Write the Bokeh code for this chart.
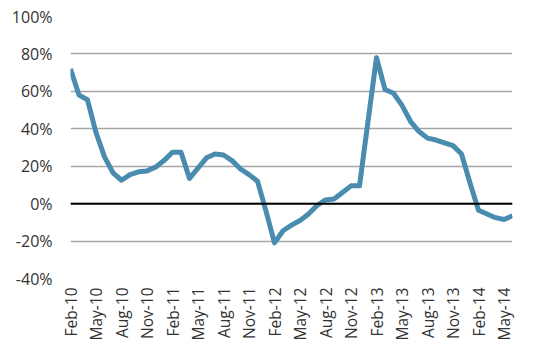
import math
from bokeh.plotting import figure
from bokeh.models import Range1d, FixedTicker, PrintfTickFormatter, Span
from bokeh.embed import file_html
from bokeh.resources import INLINE

months = ["Feb-10", "Mar-10", "Apr-10", "May-10", "Jun-10", "Jul-10", "Aug-10", "Sep-10", "Oct-10", "Nov-10", "Dec-10",
          "Jan-11", "Feb-11", "Mar-11", "Apr-11", "May-11", "Jun-11", "Jul-11", "Aug-11", "Sep-11", "Oct-11", "Nov-11", "Dec-11",
          "Jan-12", "Feb-12", "Mar-12", "Apr-12", "May-12", "Jun-12", "Jul-12", "Aug-12", "Sep-12", "Oct-12", "Nov-12", "Dec-12",
          "Jan-13", "Feb-13", "Mar-13", "Apr-13", "May-13", "Jun-13", "Jul-13", "Aug-13", "Sep-13", "Oct-13", "Nov-13", "Dec-13",
          "Jan-14", "Feb-14", "Mar-14", "Apr-14", "May-14", "Jun-14"]
values = [72, 58, 55.5, 38, 25, 16.5, 12.5, 15.5, 17, 17.5, 19.5,
          23, 27.5, 27.5, 13.5, 19, 24.5, 26.5, 26, 23, 18.5, 15.5, 12,
          -4, -21, -14.5, -11.5, -9, -5.5, -1, 2, 2.5, 6, 9.5, 9.5,
          44, 78, 61, 59, 52.5, 44, 38.5, 35, 34, 32.5, 31, 26.5,
          11, -3.5, -5.5, -7.5, -8.5, -6.5]
y_ticks = [-40, -20, 0, 20, 40, 60, 80, 100]

x = list(range(len(months)))

p = figure(width=550, height=355, output_backend="svg", toolbar_location=None,
           x_range=Range1d(0, len(months) - 1), y_range=Range1d(-40, 100),
           min_border_left=70, min_border_right=38, min_border_top=16, min_border_bottom=77)
p.outline_line_color = None
p.background_fill_color = "white"
p.border_fill_color = "white"

p.line(x, values, line_color="#4a8bb0", line_width=5, line_join="round")

p.add_layout(Span(location=0, dimension="width", line_color="black", line_width=2))

p.xgrid.grid_line_color = None
p.ygrid.grid_line_color = "#a6a6a6"
p.ygrid.grid_line_width = 1.5
p.ygrid.ticker = FixedTicker(ticks=y_ticks)

p.yaxis.ticker = FixedTicker(ticks=y_ticks)
p.yaxis.formatter = PrintfTickFormatter(format="%d%%")
p.yaxis.axis_line_color = None
p.yaxis.major_tick_line_color = None
p.yaxis.minor_tick_line_color = None
p.yaxis.major_tick_out = 0
p.yaxis.major_label_standoff = 18
p.yaxis.major_label_text_font = "Open Sans"
p.yaxis.major_label_text_font_size = "16px"
p.yaxis.major_label_text_color = "#333333"

xt = list(range(0, len(months), 3))
p.xaxis.ticker = FixedTicker(ticks=xt)
p.xaxis.major_label_overrides = {i: months[i] for i in xt}
p.xaxis.major_label_orientation = math.pi / 2
p.xaxis.axis_line_color = None
p.xaxis.major_tick_line_color = None
p.xaxis.minor_tick_line_color = None
p.xaxis.major_tick_out = 0
p.xaxis.major_label_standoff = 9
p.xaxis.major_label_text_font = "Open Sans"
p.xaxis.major_label_text_font_size = "15.5px"
p.xaxis.major_label_text_color = "#333333"

open("out.html", "w").write(file_html(p, INLINE))
